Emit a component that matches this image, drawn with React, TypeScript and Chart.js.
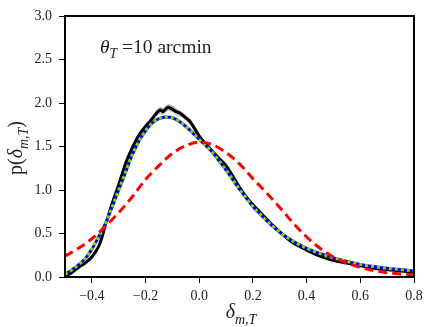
import React, { useEffect, useRef } from "react";
import { Chart, registerables } from "chart.js";

Chart.register(...registerables);

// ---- data ----
const blackX = [-0.5, -0.475, -0.45, -0.425, -0.4, -0.375, -0.36, -0.35, -0.34, -0.325, -0.3, -0.275, -0.25, -0.225, -0.2, -0.18, -0.16, -0.145, -0.135, -0.125, -0.115, -0.1, -0.085, -0.07, -0.05, -0.035, -0.02, 0, 0.015, 0.03, 0.05, 0.075, 0.1, 0.125, 0.15, 0.175, 0.2, 0.225, 0.25, 0.275, 0.3, 0.325, 0.35, 0.375, 0.4, 0.45, 0.5, 0.55, 0.6, 0.65, 0.7, 0.75, 0.8];
const blackY = [0.01, 0.05, 0.11, 0.16, 0.23, 0.35, 0.48, 0.6, 0.69, 0.84, 1.06, 1.3, 1.48, 1.63, 1.73, 1.8, 1.88, 1.92, 1.9, 1.93, 1.95, 1.93, 1.9, 1.88, 1.83, 1.79, 1.72, 1.62, 1.56, 1.51, 1.44, 1.36, 1.28, 1.16, 1.03, 0.92, 0.83, 0.75, 0.67, 0.59, 0.52, 0.45, 0.39, 0.35, 0.31, 0.24, 0.19, 0.16, 0.13, 0.1, 0.085, 0.07, 0.06];
const blackErr = [0.01, 0.01, 0.015, 0.015, 0.02, 0.02, 0.02, 0.025, 0.025, 0.03, 0.03, 0.03, 0.035, 0.035, 0.035, 0.035, 0.04, 0.04, 0.04, 0.04, 0.04, 0.04, 0.04, 0.035, 0.035, 0.035, 0.035, 0.03, 0.03, 0.03, 0.03, 0.025, 0.025, 0.025, 0.02, 0.02, 0.02, 0.02, 0.015, 0.015, 0.015, 0.015, 0.01, 0.01, 0.01, 0.01, 0.01, 0.01, 0.01, 0.01, 0.01, 0.01, 0.01];

const modelX = [-0.5, -0.475, -0.45, -0.425, -0.4, -0.375, -0.35, -0.325, -0.3, -0.275, -0.25, -0.225, -0.2, -0.175, -0.15, -0.125, -0.1, -0.075, -0.05, -0.025, 0, 0.025, 0.05, 0.075, 0.1, 0.125, 0.15, 0.175, 0.2, 0.225, 0.25, 0.275, 0.3, 0.35, 0.4, 0.45, 0.5, 0.55, 0.6, 0.65, 0.7, 0.75, 0.8];
const blueY = [0.03, 0.08, 0.14, 0.21, 0.32, 0.46, 0.61, 0.8, 1.0, 1.2, 1.4, 1.56, 1.68, 1.77, 1.82, 1.84, 1.83, 1.79, 1.73, 1.66, 1.58, 1.51, 1.43, 1.33, 1.23, 1.12, 1.01, 0.91, 0.81, 0.73, 0.65, 0.58, 0.515, 0.41, 0.33, 0.27, 0.22, 0.18, 0.145, 0.12, 0.1, 0.085, 0.07];
const greenY = [0.03, 0.08, 0.14, 0.21, 0.32, 0.46, 0.61, 0.8, 1.0, 1.2, 1.4, 1.56, 1.68, 1.77, 1.82, 1.84, 1.83, 1.79, 1.73, 1.66, 1.58, 1.51, 1.43, 1.33, 1.23, 1.12, 1.01, 0.91, 0.81, 0.73, 0.65, 0.58, 0.515, 0.41, 0.33, 0.27, 0.22, 0.18, 0.145, 0.12, 0.1, 0.085, 0.07];

const redX = [-0.5, -0.45, -0.4, -0.35, -0.3, -0.25, -0.2, -0.15, -0.1, -0.05, 0, 0.05, 0.1, 0.15, 0.2, 0.25, 0.3, 0.35, 0.4, 0.45, 0.5, 0.55, 0.6, 0.65, 0.7, 0.75, 0.8];
const redY = [0.24, 0.33, 0.44, 0.58, 0.74, 0.92, 1.12, 1.28, 1.42, 1.51, 1.55, 1.52, 1.43, 1.3, 1.13, 0.97, 0.8, 0.62, 0.46, 0.33, 0.23, 0.16, 0.11, 0.075, 0.05, 0.035, 0.025];

const xTicks = [-0.4, -0.2, 0.0, 0.2, 0.4, 0.6, 0.8];
const yTicks = [0.0, 0.5, 1.0, 1.5, 2.0, 2.5, 3.0];

const annotation = "=10 arcmin";

const FONT = '"Liberation Serif", "DejaVu Serif", serif';

type Run = { t: string; it?: boolean; sub?: boolean };

function runsWidth(ctx: CanvasRenderingContext2D, runs: Run[], size: number) {
  let w = 0;
  for (const r of runs) {
    ctx.font = `${r.it ? "italic " : ""}${r.sub ? size * 0.7 : size}px ${FONT}`;
    w += ctx.measureText(r.t).width;
  }
  return w;
}

function drawRuns(ctx: CanvasRenderingContext2D, runs: Run[], x: number, y: number, size: number) {
  let cx = x;
  ctx.textBaseline = "alphabetic";
  ctx.textAlign = "left";
  for (const r of runs) {
    ctx.font = `${r.it ? "italic " : ""}${r.sub ? size * 0.7 : size}px ${FONT}`;
    ctx.fillText(r.t, cx, y + (r.sub ? size * 0.28 : 0));
    cx += ctx.measureText(r.t).width;
  }
}

const pts = (xs: number[], ys: number[]) => xs.map((x, i) => ({ x, y: ys[i] }));

export default function App() {
  const ref = useRef<HTMLCanvasElement | null>(null);
  useEffect(() => {
    const canvas = ref.current!;
    const decor = {
      id: "decor",
      afterDatasetsDraw(chart: any) {
        const { ctx, chartArea: a } = chart;
        ctx.save();
        ctx.strokeStyle = "#000";
        ctx.lineWidth = 2;
        ctx.strokeRect(a.left, a.top, a.right - a.left, a.bottom - a.top);
        ctx.restore();
      },
      afterDraw(chart: any) {
        const { ctx } = chart;
        ctx.save();
        ctx.fillStyle = "#222";
        // annotation
        drawRuns(ctx, [{ t: "θ", it: true }, { t: "T", it: true, sub: true }, { t: " " + annotation }], 100, 53, 19.5);
        // x title
        const xr: Run[] = [{ t: "δ", it: true }, { t: "m,T", it: true, sub: true }];
        const xw = runsWidth(ctx, xr, 20);
        drawRuns(ctx, xr, 241 - xw / 2, 318, 20);
        // y title
        const yr: Run[] = [{ t: "p(" }, { t: "δ", it: true }, { t: "m,T", it: true, sub: true }, { t: ")" }];
        const yw = runsWidth(ctx, yr, 20);
        ctx.translate(22, 148);
        ctx.rotate(-Math.PI / 2);
        drawRuns(ctx, yr, -yw / 2, 0, 20);
        ctx.restore();
      },
    };
    const tickFont = { family: FONT, size: 14 };
    const chart = new Chart(canvas, {
      type: "line",
      data: {
        datasets: [
          { data: pts(blackX, blackY.map((v, i) => v + blackErr[i])), borderWidth: 0, pointRadius: 0, fill: "+1", backgroundColor: "rgba(150,150,150,0.6)", borderColor: "rgba(0,0,0,0)", order: 6 },
          { data: pts(blackX, blackY.map((v, i) => v - blackErr[i])), borderWidth: 0, pointRadius: 0, fill: false, borderColor: "rgba(0,0,0,0)", order: 7 },
          { data: pts(blackX, blackY), borderColor: "#000", borderWidth: 3, pointRadius: 0, fill: false, tension: 0.2, order: 5 },
          { data: pts(modelX, blueY), borderColor: "#0000ff", borderWidth: 3, pointRadius: 0, fill: false, cubicInterpolationMode: "monotone", order: 4 },
          { data: pts(modelX, greenY), borderColor: "#7fd700", borderWidth: 3, borderDash: [3, 3], pointRadius: 0, fill: false, cubicInterpolationMode: "monotone", order: 3 },
          { data: pts(redX, redY), borderColor: "#ff0000", borderWidth: 3, borderDash: [9, 5], pointRadius: 0, fill: false, cubicInterpolationMode: "monotone", order: 2 },
        ],
      },
      options: {
        animation: false,
        responsive: true,
        maintainAspectRatio: false,
        layout: { padding: { left: 0, top: 16, right: 22, bottom: 0 } },
        plugins: { legend: { display: false }, tooltip: { enabled: false } },
        scales: {
          x: {
            type: "linear",
            min: -0.5,
            max: 0.8,
            border: { display: false },
            grid: { drawOnChartArea: false, drawTicks: true, tickLength: 6, color: "#000", lineWidth: 1 },
            ticks: { font: tickFont, color: "#222", padding: 5, maxRotation: 0, callback: (v: any) => (Number(v) < 0 ? "\u2212" : "") + Math.abs(Number(v)).toFixed(1) },
            afterBuildTicks: (s: any) => { s.ticks = xTicks.map((v) => ({ value: v })); },
            afterFit: (s: any) => { s.height = 50; },
          },
          y: {
            type: "linear",
            min: 0,
            max: 3,
            border: { display: false },
            grid: { drawOnChartArea: false, drawTicks: true, tickLength: 6, color: "#000", lineWidth: 1 },
            ticks: { font: tickFont, color: "#222", padding: 7, callback: (v: any) => Number(v).toFixed(1) },
            afterBuildTicks: (s: any) => { s.ticks = yTicks.map((v) => ({ value: v })); },
            afterFit: (s: any) => { s.width = 65; },
          },
        },
      },
      plugins: [decor],
    } as any);
    return () => chart.destroy();
  }, []);
  return (
    <div style={{ position: "fixed", left: 0, top: 0, width: 436, height: 327, background: "#fff" }}>
      <canvas ref={ref} />
    </div>
  );
}
